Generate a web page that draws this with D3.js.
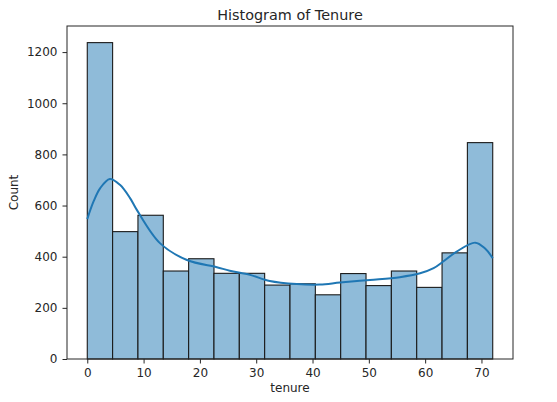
<!DOCTYPE html>
<html>
<head>
<meta charset="utf-8">
<script src="https://cdn.jsdelivr.net/npm/d3@7"></script>
<style>
  body { margin: 0; background: #fff; }
  text { font-family: "DejaVu Sans", sans-serif; fill: #262626; }
</style>
</head>
<body>
<div id="chart"></div>
<script>
// histogram counts, bins of width 4.5 from 0 to 72
const binWidth = 4.5;
const counts = [1237, 498, 562, 344, 392, 335, 335, 289, 294, 251, 334, 287, 344, 280, 415, 846];
// kde curve (tenure, count)
const kdeTenure = [0, 1.1, 2.3, 4.0, 5.8, 7.6, 8.8, 12.9, 17.7, 23, 25.3, 28.9, 32.4, 37.2, 41.3, 44.9, 50.2, 55.5, 59.1, 61.5, 63.2, 65.6, 68.9, 70.6, 72];
const kdeCount  = [547, 615, 668, 704, 681, 629, 583, 453, 387, 359, 345, 329, 305, 293, 291, 299, 309, 320, 335, 355, 381, 420, 455, 433, 394];
const xTicks = [0, 10, 20, 30, 40, 50, 60, 70];
const yTicks = [0, 200, 400, 600, 800, 1000, 1200];

const width = 557, height = 402;
const margin = { top: 26, right: 44, bottom: 43, left: 67 };

const svg = d3.select("#chart")
    .append("svg")
    .attr("width", width)
    .attr("height", height);

const x = d3.scaleLinear()
    .domain([-3.6, 75.6])
    .range([margin.left, width - margin.right]);

const y = d3.scaleLinear()
    .domain([0, 1302])
    .range([height - margin.bottom, margin.top]);

const bins = counts.map((c, i) => ({ x0: i * binWidth, x1: (i + 1) * binWidth, c: c }));

svg.selectAll("rect.bar")
    .data(bins)
    .enter()
    .append("rect")
    .attr("class", "bar")
    .attr("x", d => x(d.x0))
    .attr("y", d => y(d.c))
    .attr("width", d => x(d.x1) - x(d.x0))
    .attr("height", d => y(0) - y(d.c))
    .attr("fill", "#8fbbd9")
    .attr("stroke", "#1a1a1a")
    .attr("stroke-width", 1.1);

const line = d3.line()
    .x(d => x(d[0]))
    .y(d => y(d[1]))
    .curve(d3.curveCatmullRom.alpha(0.5));

svg.append("path")
    .datum(kdeTenure.map((t, i) => [t, kdeCount[i]]))
    .attr("d", line)
    .attr("fill", "none")
    .attr("stroke", "#1f77b4")
    .attr("stroke-width", 2);

// axes
const xAxis = svg.append("g")
    .attr("transform", `translate(0,${height - margin.bottom})`)
    .call(d3.axisBottom(x).tickValues(xTicks).tickFormat(d3.format("d")).tickSize(4.5).tickPadding(5));

const yAxis = svg.append("g")
    .attr("transform", `translate(${margin.left},0)`)
    .call(d3.axisLeft(y).tickValues(yTicks).tickFormat(d3.format("d")).tickSize(4.5).tickPadding(5));

[xAxis, yAxis].forEach(g => {
    g.select(".domain").remove();
    g.selectAll("line").attr("stroke", "#262626").attr("stroke-width", 1);
    g.selectAll("text").attr("font-size", 12).attr("fill", "#262626")
        .style("font-family", "DejaVu Sans, sans-serif");
});

// frame
svg.append("rect")
    .attr("x", margin.left)
    .attr("y", margin.top)
    .attr("width", width - margin.left - margin.right)
    .attr("height", height - margin.top - margin.bottom)
    .attr("fill", "none")
    .attr("stroke", "#262626")
    .attr("stroke-width", 1);

svg.append("text")
    .attr("x", (margin.left + width - margin.right) / 2)
    .attr("y", 20)
    .attr("text-anchor", "middle")
    .attr("font-size", 14.4)
    .text("Histogram of Tenure");

svg.append("text")
    .attr("x", (margin.left + width - margin.right) / 2)
    .attr("y", 392)
    .attr("text-anchor", "middle")
    .attr("font-size", 12)
    .text("tenure");

svg.append("text")
    .attr("transform", `translate(18,${(margin.top + height - margin.bottom) / 2}) rotate(-90)`)
    .attr("text-anchor", "middle")
    .attr("font-size", 12)
    .text("Count");
</script>
</body>
</html>
